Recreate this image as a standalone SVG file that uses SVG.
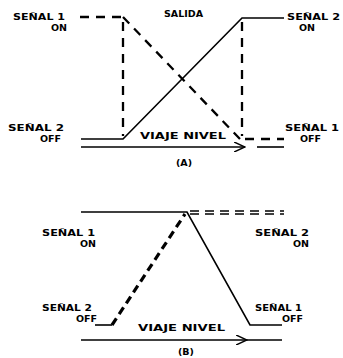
<svg xmlns="http://www.w3.org/2000/svg" width="343" height="358" viewBox="0 0 343 358">
<style>
text{font-family:"DejaVu Sans","Liberation Sans",sans-serif;font-weight:bold;font-size:9.5px;fill:#000}
.s{fill:none;stroke:#000;stroke-width:1.6}
.d{fill:none;stroke:#000;stroke-width:2.3;stroke-dasharray:9 7}
.db{fill:none;stroke:#000;stroke-width:3.2;stroke-dasharray:8 5}
.dd{fill:none;stroke:#000;stroke-width:1.3;stroke-dasharray:9 6}
</style>
<defs>
<marker id="ah" markerWidth="12" markerHeight="10" refX="11" refY="5" orient="auto" markerUnits="userSpaceOnUse">
<path d="M0,0 L11,5 L0,10" fill="none" stroke="#000" stroke-width="1.5"/>
</marker>
</defs>
<rect width="343" height="358" fill="#fff"/>
<g id="labels-a">
<g id="a-senal1-on"><text x="13" y="20" textLength="52" lengthAdjust="spacingAndGlyphs">SEÑAL 1</text><text x="51" y="31">ON</text></g>
<g id="a-salida"><text x="164" y="17">SALIDA</text></g>
<g id="a-senal2-on"><text x="287" y="20" textLength="53" lengthAdjust="spacingAndGlyphs">SEÑAL 2</text><text x="299" y="31">ON</text></g>
<g id="a-senal2-off"><text x="8" y="131" textLength="56" lengthAdjust="spacingAndGlyphs">SEÑAL 2</text><text x="40" y="142">OFF</text></g>
<g id="a-senal1-off"><text x="285" y="131" textLength="54" lengthAdjust="spacingAndGlyphs">SEÑAL 1</text><text x="300" y="142">OFF</text></g>
<g id="a-viaje"><text x="140" y="139" textLength="86" lengthAdjust="spacingAndGlyphs">VIAJE NIVEL</text></g>
<g id="a-caption"><text x="176" y="166" font-size="8.5">(A)</text></g>
</g>
<g id="labels-b">
<g id="b-senal1-on"><text x="42" y="236" textLength="53" lengthAdjust="spacingAndGlyphs">SEÑAL 1</text><text x="80" y="247">ON</text></g>
<g id="b-senal2-on"><text x="255" y="236" textLength="54" lengthAdjust="spacingAndGlyphs">SEÑAL 2</text><text x="293" y="247">ON</text></g>
<g id="b-senal2-off"><text x="42" y="311" textLength="50" lengthAdjust="spacingAndGlyphs">SEÑAL 2</text><text x="76" y="322">OFF</text></g>
<g id="b-senal1-off"><text x="255" y="311" textLength="47" lengthAdjust="spacingAndGlyphs">SEÑAL 1</text><text x="282" y="322">OFF</text></g>
<g id="b-viaje"><text x="138" y="331" textLength="87" lengthAdjust="spacingAndGlyphs">VIAJE NIVEL</text></g>
<g id="b-caption"><text x="178" y="355" font-size="8.5">(B)</text></g>
</g>
<g id="connectors">
<!-- Diagram A -->
<path class="d" d="M80,17 H123"/>
<path class="d" d="M123,17 L240,139"/>
<path class="d" d="M123,22 V136"/>
<path class="d" d="M242,22 V136"/>
<path class="d" d="M245,139 H284"/>
<path class="s" d="M81,139 H123 L242,18 H284"/>
<path class="s" d="M81,147 H245" marker-end="url(#ah)"/>
<path class="s" d="M257,147 H284"/>
<!-- Diagram B -->
<path class="s" d="M81,212 H187 L250,325 H282"/>
<path class="s" d="M95,325 H112"/>
<path class="db" d="M112,325 L185,214"/>
<path class="dd" d="M190,211 H284"/>
<path class="dd" d="M190,214 H284"/>
<path class="s" d="M81,340 H247" marker-end="url(#ah)"/>
<path class="s" d="M247,340 H282"/>
</g>
</svg>
